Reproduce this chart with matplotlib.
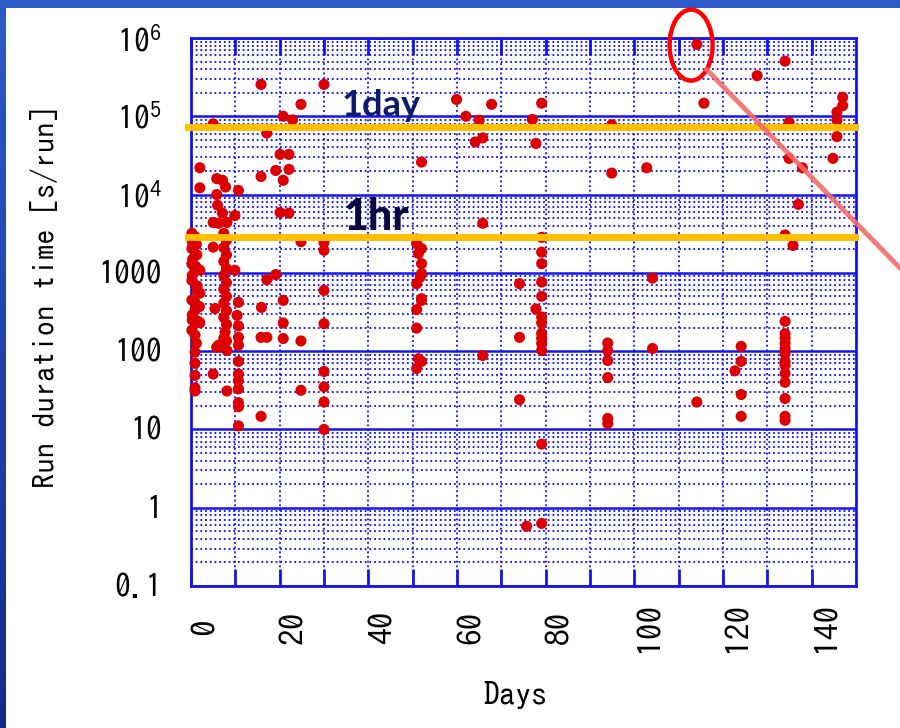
import numpy as np
import matplotlib
matplotlib.use("Agg")
import matplotlib.pyplot as plt
from matplotlib.ticker import LogLocator, NullFormatter
from matplotlib.patches import Rectangle, Ellipse
from matplotlib.lines import Line2D
from matplotlib.colors import LinearSegmentedColormap

plt.rcParams['font.family'] = ['IPAGothic', 'DejaVu Sans']
plt.rcParams['mathtext.default'] = 'regular'

# run day vs run duration [s]
run_days = [
    0.2, 0.9, 0.3, 1.2, 0.2, 1.3, 0.4, 0.2, 1.1, 0.9, 2.0, 0.3, 0.2, 1.4, 1.3, 2.0,
    0.2, 0.9, 1.9, 0.9, 0.3, 1.6, 2.0, 0.3, 0.2, 0.9, 1.2, 0.9, 0.9, 0.9, 0.9, 0.9,
    2.0, 2.0, 5.0,
    5.8, 7.1, 7.8, 5.8, 6.0, 7.1, 5.0, 6.2, 8.1, 5.0, 5.0, 8.1, 6.2, 8.1, 7.7, 5.4, 5.8,
    7.4, 8.0, 7.4, 8.0, 7.4, 8.0, 7.4, 8.0, 7.4, 8.0, 7.4, 8.0, 7.4, 8.0, 7.4, 8.0,
    9.9, 10.7, 9.9, 10.7, 10.4, 10.7, 10.7, 10.7, 10.7, 10.7, 10.7, 10.7, 10.7, 10.7, 10.7,
    15.8, 15.8, 15.9, 15.8, 17.1, 17.1, 15.8, 17.1, 19.1, 19.1, 20.1, 22.1, 20.8, 22.9,
    22.1, 20.8, 20.1, 22.1, 20.8, 20.8, 20.8, 24.8, 24.8, 24.8, 24.8,
    30.0, 30.0, 30.0, 30.0, 30.0, 30.0, 30.0, 30.0, 30.0,
    50.9, 50.9, 52.0, 51.3, 52.0, 52.0, 51.7, 50.9, 52.0, 52.0, 50.9, 50.9, 51.3, 52.0, 50.9, 52.0,
    59.9, 62.0, 65.0, 67.8, 64.1, 65.8, 65.8, 65.8, 74.1, 74.1, 74.1, 75.7, 77.0, 77.8,
    79.1, 79.1, 79.1, 79.1, 79.1, 79.1, 77.8, 79.1, 79.1, 79.1, 79.1, 79.1, 79.1, 79.1, 79.1,
    94.9, 94.9, 94.0, 94.0, 94.0, 94.0, 94.0, 94.0,
    102.8, 104.1, 104.1,
    114.1, 115.7, 114.1,
    122.7, 124.1, 124.1, 124.1, 124.1, 127.7,
    134.0, 134.9, 134.9, 137.9, 137.0, 134.0, 135.8, 134.0, 134.0, 134.0, 134.0, 134.0,
    134.0, 134.0, 134.0, 134.0, 134.0, 134.0, 134.0, 134.0,
    147.0, 147.0, 145.7, 145.7, 145.7, 144.8,
]
run_secs = [
    3200, 2900, 2500, 2300, 2050, 1700, 1500, 1300, 1200, 1080, 1080, 930, 800, 680, 600, 550,
    450, 420, 370, 330, 290, 240, 230, 250, 185, 160, 126, 97, 70, 49, 34, 31,
    22000, 12200, 80000,
    16000, 15200, 12500, 10000, 7300, 5800, 4400, 4300, 4400, 2130, 51, 31, 119, 102, 175, 350, 112,
    3200, 2600, 2100, 1700, 1400, 1130, 930, 750, 615, 500, 410, 330, 270, 220, 146, 135,
    5400, 11300, 1080, 420, 286, 210, 150, 119, 74, 51, 42, 33, 22, 19.5, 11.1,
    255000, 17000, 362, 14.7, 61000, 818, 150, 150, 20300, 950, 32600, 32600, 100000, 90000,
    21000, 15200, 5900, 5800, 445, 229, 145, 142000, 2500, 135, 31.6,
    255000, 2450, 1940, 597, 224, 55, 35, 22.4, 10,
    2700, 2360, 2040, 1770, 1310, 980, 883, 727, 468, 445, 339, 197, 80, 74, 60, 26000,
    164000, 100000, 89000, 142000, 47000, 53000, 4300, 88, 727, 150, 24, 0.58, 91000, 45000,
    147000, 2840, 1840, 1310, 762, 501, 345, 273, 230, 169, 146, 126, 102, 6.5, 0.63,
    78000, 18800, 127, 102, 76, 46, 13.8, 11.9,
    22000, 857, 108,
    830000, 147000, 22.4,
    56, 115, 74, 27.9, 14.7, 330000,
    506000, 84000, 29000, 22000, 7500, 3050, 2240, 240, 167, 146, 126, 108,
    93, 74, 66, 52, 40, 24.8, 14.7, 13.1,
    175000, 137000, 113000, 89000, 55000, 29000,
]

one_day_line = 72000
one_hour_line = 2900

ytick_vals = [0.1, 1, 10, 100, 1000, 1e4, 1e5, 1e6]
ytick_labels = ['0.1', '1', '10', '100', '1000', '$10^{4}$', '$10^{5}$', '$10^{6}$']
xtick_vals = list(range(0, 150, 20))
xtick_labels = [str(v) for v in xtick_vals]

blue = '#1414f0'
dot_blue = '#0a0aff'

fig = plt.figure(figsize=(9, 7.28), dpi=100, facecolor='#2c5bc9')

# blue frame on left/top edges
strip = fig.add_axes([0, 0, 6 / 900, 1], zorder=-6)
cmap = LinearSegmentedColormap.from_list('edge', ['#172a8a', '#2c5bc9'])
strip.imshow(np.linspace(0, 1, 100).reshape(-1, 1), aspect='auto', cmap=cmap,
             origin='lower', extent=[0, 1, 0, 1])
strip.axis('off')
fig.patches.append(Rectangle((6 / 900, 0), 1, 1 - 8 / 728, transform=fig.transFigure,
                             facecolor='white', edgecolor='none', zorder=-5))

ax = fig.add_axes([191 / 900, 1 - 586 / 728, 665 / 900, 548 / 728])
ax.set_facecolor('white')
ax.set_yscale('log')
ax.set_xlim(0, 150)
ax.set_ylim(0.1, 1e6)
ax.set_axisbelow(True)

ax.scatter(run_days, run_secs, s=64, color='#dd0000', edgecolors='none', zorder=3, clip_on=False)

ax.axhline(one_day_line, xmin=-0.005, xmax=0.998, color='#ffc000', lw=5, zorder=4, clip_on=False)
ax.axhline(one_hour_line, xmin=-0.005, xmax=0.998, color='#ffc000', lw=5, zorder=4, clip_on=False)
ax.text(34.0, 1.02e5, '1day', family=['Lato', 'DejaVu Sans'], fontweight='bold',
        fontsize=26, color='#0d1a6e', ha='left', va='baseline', zorder=5)
ax.text(34.3, 3480, '1hr', family=['Lato', 'DejaVu Sans'], fontweight='black',
        fontsize=31, color='#0a0a40', ha='left', va='baseline', zorder=5)

ax.set_yticks(ytick_vals, labels=ytick_labels, fontsize=23)
ax.yaxis.set_minor_locator(LogLocator(base=10, subs=np.arange(2, 10), numticks=20))
ax.yaxis.set_minor_formatter(NullFormatter())
ax.tick_params(axis='y', which='both', length=0, pad=21, labelcolor='black')

ax.set_xticks(xtick_vals, labels=xtick_labels, rotation=90, ha='left', va='center', fontsize=24)
ax.set_xticks(range(10, 150, 20), minor=True)
ax.tick_params(axis='x', which='both', direction='in', length=12, width=2, color=blue,
               top=True, pad=29.5, labelcolor='black')

ax.grid(True, which='major', axis='y', color=blue, lw=1.8, ls='-')
ax.grid(True, which='minor', axis='y', color=dot_blue, lw=1.3, ls=(0, (1, 1.6)))
ax.grid(True, which='both', axis='x', color=dot_blue, lw=1.3, ls=(0, (1, 1.6)))
for s in ax.spines.values():
    s.set_color(blue)
    s.set_linewidth(2)

fig.text(45 / 900, 1 - 297 / 728, 'Run duration time [s/run]', rotation=90,
         ha='center', va='center', fontsize=22)
fig.text(515 / 900, 1 - 695 / 728, 'Days', ha='center', va='center', fontsize=23)

# highlight of the longest run
ax.add_patch(Ellipse((0.752, 0.987), 0.0647, 0.1296, transform=ax.transAxes, fill=False,
                     edgecolor='#ff0000', lw=3.2, clip_on=False, zorder=6))
fig.lines.append(Line2D([707 / 900, 1.0], [1 - 70 / 728, 1 - 268 / 728], transform=fig.transFigure,
                        color='#f36a6a', lw=3.5, alpha=0.9, zorder=5))

plt.savefig('out.png', dpi=100, facecolor=fig.get_facecolor())
